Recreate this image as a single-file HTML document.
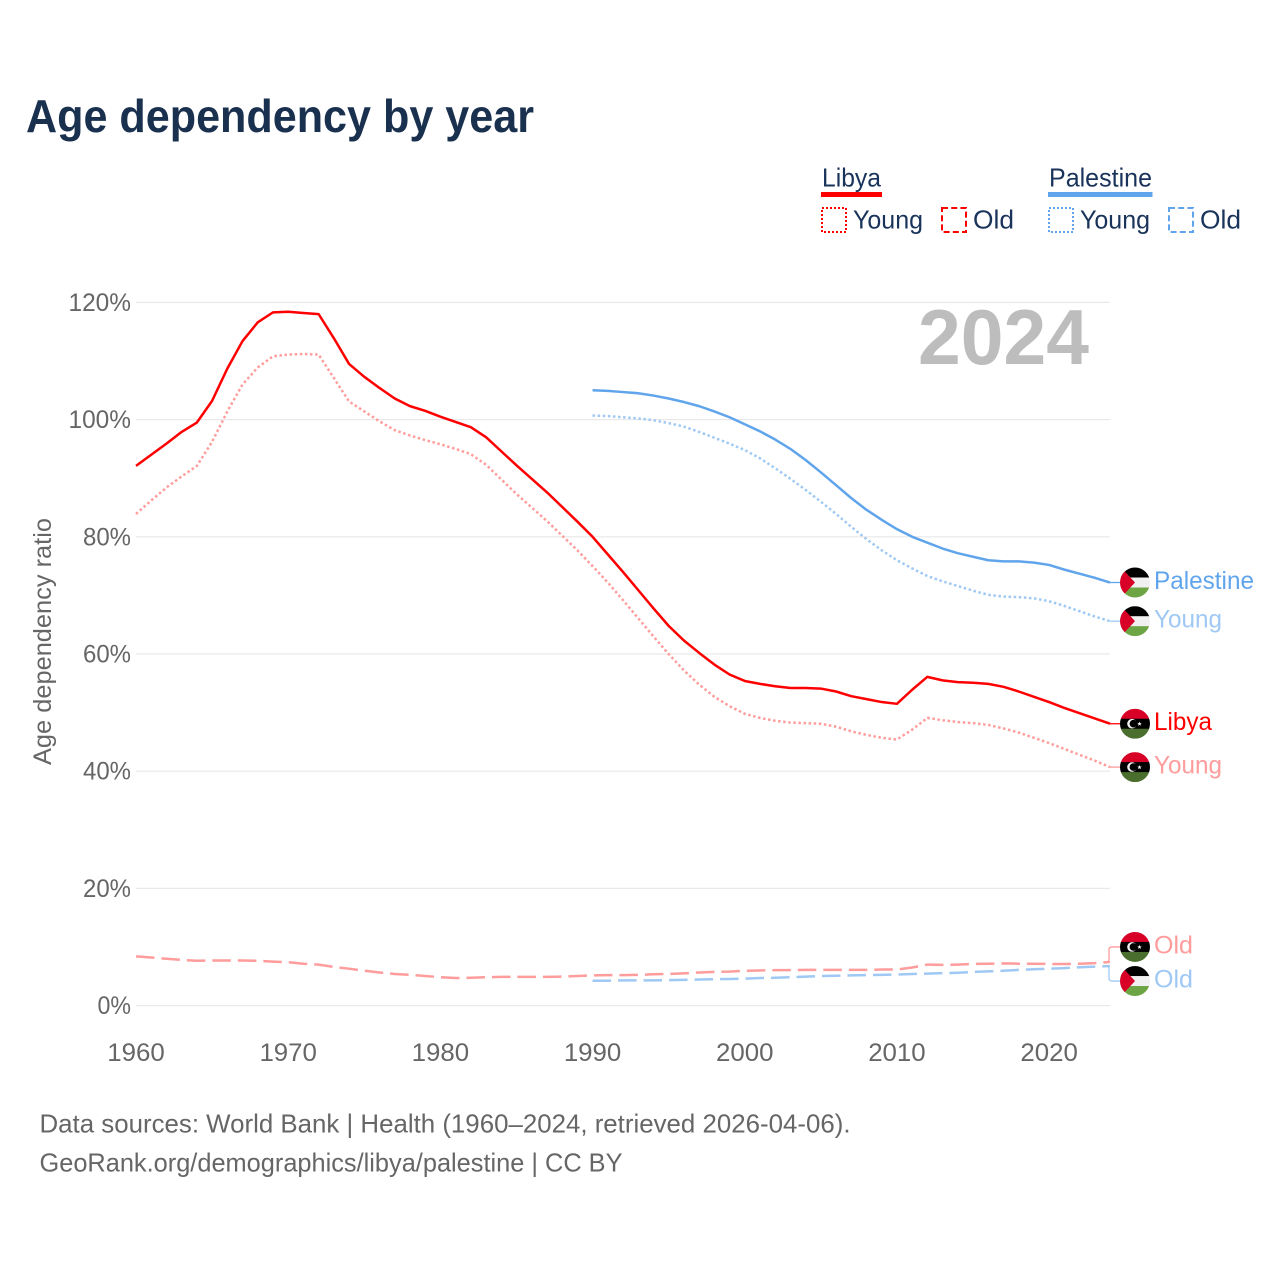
<!DOCTYPE html>
<html lang="en">
<head>
<meta charset="utf-8">
<title>Age dependency by year</title>
<style>
html,body{margin:0;padding:0;background:#fff;}
svg{display:block;}
text{font-family:"Liberation Sans",sans-serif;}
</style>
</head>
<body>
<svg id="chart" xmlns="http://www.w3.org/2000/svg" width="1280" height="1280" viewBox="0 0 1280 1280">
  <defs>
    <clipPath id="flag-clip"><circle cx="0" cy="0" r="15"/></clipPath>
    <g id="flag-libya" clip-path="url(#flag-clip)">
      <rect x="-15" y="-15" width="30" height="10.5" fill="#d80027"/>
      <rect x="-15" y="-5" width="30" height="10.5" fill="#000"/>
      <rect x="-15" y="5" width="30" height="10" fill="#496e2d"/>
      <circle cx="-3" cy="0" r="4.8" fill="#f0f0f0"/>
      <circle cx="-1.6" cy="0" r="3.8" fill="#000"/>
      <polygon points="4.5,-2.2 5.1,-0.6 6.8,-0.6 5.5,0.4 6,2 4.5,1.1 3,2 3.5,0.4 2.2,-0.6 3.9,-0.6" fill="#f0f0f0"/>
    </g>
    <g id="flag-palestine" clip-path="url(#flag-clip)">
      <rect x="-15" y="-15" width="30" height="10.5" fill="#000"/>
      <rect x="-15" y="-5" width="30" height="10.5" fill="#f0f0f0"/>
      <rect x="-15" y="5" width="30" height="10" fill="#6da544"/>
      <polygon points="-15,-15 -12.5,-13.5 0,0 -12.5,13.5 -15,15" fill="#d80027"/>
    </g>
  </defs>

  <rect x="0" y="0" width="1280" height="1280" fill="#fff"/>

  <text x="26" y="132" font-size="46" font-weight="bold" fill="#19304f" textLength="508" lengthAdjust="spacingAndGlyphs">Age dependency by year</text>

  <g>
    <g>
      <text x="822" y="186.5" font-size="26" fill="#19335a" textLength="59" lengthAdjust="spacingAndGlyphs">Libya</text>
      <rect x="821" y="192" width="61" height="5" fill="#ff0000"/>
      <rect x="822" y="208" width="24" height="24" fill="none" stroke="#ff0000" stroke-width="2" stroke-dasharray="2 2"/>
      <text x="853" y="228.5" font-size="26" fill="#19335a" textLength="70" lengthAdjust="spacingAndGlyphs">Young</text>
      <rect x="942" y="208" width="24" height="24" fill="none" stroke="#ff0000" stroke-width="2" stroke-dasharray="6 3.2"/>
      <text x="973" y="228.5" font-size="26" fill="#19335a" textLength="41" lengthAdjust="spacingAndGlyphs">Old</text>
    </g>
    <g>
      <text x="1049" y="186.5" font-size="26" fill="#19335a" textLength="103" lengthAdjust="spacingAndGlyphs">Palestine</text>
      <rect x="1048" y="192" width="104.5" height="5" fill="#60a5ec"/>
      <rect x="1049" y="208" width="24" height="24" fill="none" stroke="#60a5ec" stroke-width="2" stroke-dasharray="2 2"/>
      <text x="1080" y="228.5" font-size="26" fill="#19335a" textLength="70" lengthAdjust="spacingAndGlyphs">Young</text>
      <rect x="1169" y="208" width="24" height="24" fill="none" stroke="#60a5ec" stroke-width="2" stroke-dasharray="6 3.2"/>
      <text x="1200" y="228.5" font-size="26" fill="#19335a" textLength="41" lengthAdjust="spacingAndGlyphs">Old</text>
    </g>
  </g>

  <g id="grid"></g>
  <g id="y-axis"></g>
  <g id="x-axis"></g>

  <text transform="translate(51,641.5) rotate(-90)" text-anchor="middle" font-size="25" fill="#666" textLength="247" lengthAdjust="spacingAndGlyphs">Age dependency ratio</text>

  <text x="918" y="364" font-size="78" font-weight="bold" fill="#bdbdbd" textLength="171" lengthAdjust="spacingAndGlyphs">2024</text>

  <g id="series"></g>

  <text x="39.5" y="1132.5" font-size="26" fill="#666" textLength="811" lengthAdjust="spacingAndGlyphs">Data sources: World Bank | Health (1960–2024, retrieved 2026-04-06).</text>
  <text x="39.5" y="1171.5" font-size="26" fill="#666" textLength="583" lengthAdjust="spacingAndGlyphs">GeoRank.org/demographics/libya/palestine | CC BY</text>
</svg>

<script>
const yTicks = [0, 20, 40, 60, 80, 100, 120];
const xTicks = [1960, 1970, 1980, 1990, 2000, 2010, 2020];

const libyaYears = [1960,1961,1962,1963,1964,1965,1966,1967,1968,1969,1970,1971,1972,1973,1974,1975,1976,1977,1978,1979,1980,1981,1982,1983,1984,1985,1986,1987,1988,1989,1990,1991,1992,1993,1994,1995,1996,1997,1998,1999,2000,2001,2002,2003,2004,2005,2006,2007,2008,2009,2010,2011,2012,2013,2014,2015,2016,2017,2018,2019,2020,2021,2022,2023,2024];
const palestineYears = [1990,1991,1992,1993,1994,1995,1996,1997,1998,1999,2000,2001,2002,2003,2004,2005,2006,2007,2008,2009,2010,2011,2012,2013,2014,2015,2016,2017,2018,2019,2020,2021,2022,2023,2024];

const libyaTotal = [92.1,94,95.9,97.9,99.5,103.2,108.7,113.4,116.6,118.3,118.4,118.2,118,113.9,109.5,107.3,105.4,103.6,102.3,101.5,100.5,99.6,98.7,97,94.6,92.2,89.9,87.6,85.1,82.6,80,77,74,70.9,67.8,64.8,62.3,60.2,58.2,56.5,55.4,54.9,54.5,54.2,54.2,54.1,53.6,52.8,52.3,51.8,51.5,53.9,56.1,55.5,55.2,55.1,54.9,54.4,53.6,52.7,51.8,50.8,49.9,49,48.1];
const libyaYoung = [83.9,86.2,88.4,90.3,92.1,96.2,101.4,106,108.9,110.8,111.1,111.2,111.1,107.1,103.1,101.4,99.7,98.2,97.3,96.5,95.8,95,94.1,92.3,89.8,87.3,85,82.7,80.2,77.7,75,72.2,69.2,66.1,63,60,57.2,54.8,52.7,51.1,49.8,49.1,48.6,48.3,48.2,48.1,47.6,46.8,46.2,45.7,45.4,47.1,49.1,48.7,48.4,48.2,47.9,47.3,46.6,45.7,44.8,43.8,42.8,41.8,40.7];
const libyaOld = [8.4,8.2,8,7.8,7.65,7.7,7.7,7.7,7.65,7.5,7.4,7.15,7,6.6,6.3,5.95,5.65,5.4,5.25,5.05,4.85,4.7,4.75,4.85,4.9,4.9,4.9,4.9,4.95,5.05,5.15,5.2,5.2,5.25,5.35,5.4,5.5,5.65,5.75,5.8,5.95,6,6.05,6.05,6.1,6.1,6.1,6.1,6.1,6.15,6.15,6.5,7,6.95,7,7.1,7.15,7.2,7.15,7.15,7.1,7.1,7.15,7.25,7.45];

const palestineTotal = [105,104.9,104.7,104.5,104.1,103.6,103,102.3,101.4,100.4,99.2,98,96.6,95,93.1,91,88.8,86.6,84.6,82.9,81.3,80,79,78,77.2,76.6,76,75.8,75.8,75.6,75.2,74.4,73.7,73,72.2];
const palestineYoung = [100.7,100.6,100.4,100.2,99.9,99.4,98.8,97.9,96.9,95.9,94.8,93.4,91.7,89.9,88,86,83.9,81.7,79.6,77.7,76,74.6,73.3,72.4,71.6,70.8,70.1,69.8,69.7,69.5,69,68.2,67.3,66.4,65.6];
const palestineOld = [4.25,4.25,4.3,4.3,4.3,4.35,4.4,4.45,4.5,4.55,4.6,4.7,4.75,4.85,4.95,5.05,5.1,5.15,5.2,5.25,5.3,5.4,5.45,5.55,5.6,5.75,5.85,5.95,6.1,6.2,6.3,6.4,6.55,6.65,6.75];

const SVGNS = 'http://www.w3.org/2000/svg';
function xScale(year) { return 136 + (year - 1960) * (974 / 64); }
function yScale(v) { return 1005.6 - v * 5.86; }
function el(tag, parent) {
  const node = document.createElementNS(SVGNS, tag);
  parent.appendChild(node);
  return node;
}

const gridLayer = document.getElementById('grid');
const yLayer = document.getElementById('y-axis');
const xLayer = document.getElementById('x-axis');
const seriesLayer = document.getElementById('series');

yTicks.forEach(function (t) {
  const line = el('line', gridLayer);
  
  
  line.setAttribute('x1', 136);
  line.setAttribute('x2', 1110);
  line.setAttribute('y1', yScale(t));
  line.setAttribute('y2', yScale(t));
  line.setAttribute('stroke', '#e9e9e9');
  line.setAttribute('stroke-width', '1.2');

  const label = el('text', yLayer);
  
  
  label.setAttribute('x', 131);
  label.setAttribute('y', yScale(t) + 8.5);
  label.setAttribute('text-anchor', 'end');
  label.setAttribute('font-size', '25');
  label.setAttribute('fill', '#666');
  label.setAttribute('textLength', String(t).length * 14.5 + 19);
  label.setAttribute('lengthAdjust', 'spacingAndGlyphs');
  label.textContent = t + '%';
});

xTicks.forEach(function (t) {
  const label = el('text', xLayer);
  
  
  label.setAttribute('x', xScale(t));
  label.setAttribute('y', 1061);
  label.setAttribute('text-anchor', 'middle');
  label.setAttribute('font-size', '25');
  label.setAttribute('fill', '#666');
  label.setAttribute('textLength', '57.5');
  label.setAttribute('lengthAdjust', 'spacingAndGlyphs');
  label.textContent = t;
});

function drawSeries(name, years, values, color, dash, flagId, labelText, labelWidth, slotOffset) {
  const points = years.map(function (yr, i) {
    return xScale(yr).toFixed(2) + ',' + yScale(values[i]).toFixed(2);
  }).join(' ');

  const line = el('polyline', seriesLayer);
  
  
  line.setAttribute('points', points);
  line.setAttribute('fill', 'none');
  line.setAttribute('stroke', color);
  line.setAttribute('stroke-width', '2.5');
  line.setAttribute('stroke-linejoin', 'round');
  if (dash) line.setAttribute('stroke-dasharray', dash);

  const endX = xScale(years[years.length - 1]);
  const endY = yScale(values[values.length - 1]);
  const slotY = endY + slotOffset;

  const connector = el('path', seriesLayer);
  
  
  if (slotOffset === 0) {
    connector.setAttribute('d', 'M' + endX + ' ' + endY + 'H1120');
  } else {
    const sign = slotOffset > 0 ? 1 : -1;
    connector.setAttribute('d', 'M' + (endX - 4) + ' ' + endY + 'Q' + (endX - 1) + ' ' + endY + ' ' + (endX - 1) + ' ' + (endY + sign * 3) + 'V' + (slotY - sign * 3) + 'Q' + (endX - 1) + ' ' + slotY + ' ' + (endX + 2) + ' ' + slotY + 'H1120');
  }
  connector.setAttribute('fill', 'none');
  connector.setAttribute('stroke', color);
  connector.setAttribute('stroke-width', '1.3');

  const flag = el('use', seriesLayer);
  
  
  flag.setAttribute('href', '#' + flagId);
  flag.setAttribute('transform', 'translate(1135,' + slotY + ')');

  const label = el('text', seriesLayer);
  
  
  label.setAttribute('x', 1154);
  label.setAttribute('y', slotY + 6.5);
  label.setAttribute('font-size', '25');
  label.setAttribute('fill', color);
  label.setAttribute('textLength', labelWidth);
  label.setAttribute('lengthAdjust', 'spacingAndGlyphs');
  label.textContent = labelText;
}

drawSeries('libya-old', libyaYears, libyaOld, '#ff9c9c', '18.5 7', 'flag-libya', 'Old', 39, -15);
drawSeries('palestine-old', palestineYears, palestineOld, '#9fc9f4', '18.5 7', 'flag-palestine', 'Old', 39, 15);
drawSeries('libya-young', libyaYears, libyaYoung, '#ff9c9c', '2.5 2.6', 'flag-libya', 'Young', 68, 0);
drawSeries('palestine-young', palestineYears, palestineYoung, '#9fc9f4', '2.5 2.6', 'flag-palestine', 'Young', 68, 0);
drawSeries('libya-total', libyaYears, libyaTotal, '#ff0000', null, 'flag-libya', 'Libya', 58, 0);
drawSeries('palestine-total', palestineYears, palestineTotal, '#60a5ec', null, 'flag-palestine', 'Palestine', 100, 0);
</script>
</body>
</html>
